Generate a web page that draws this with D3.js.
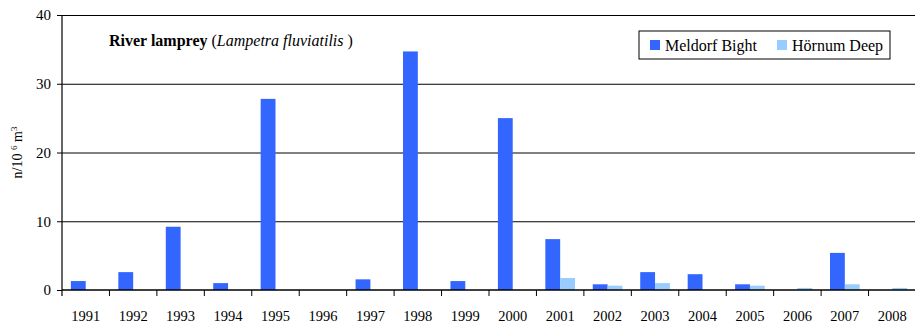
<html>
    <head>
        <script src="https://d3js.org/d3.v7.min.js"></script>
        <style>
            body { margin: 0; background: white; }
            svg text { font-family: "Liberation Serif", "DejaVu Serif", serif !important; }
            .axis .domain { display: none; }
            .gridlines .domain { display: none; }
            .gridlines line { stroke: #000; stroke-width: 1; }
        </style>
    </head>
    <body>
        <svg id="chart" width="915" height="324"></svg>
        <script>
            const years = ["1991","1992","1993","1994","1995","1996","1997","1998","1999",
                           "2000","2001","2002","2003","2004","2005","2006","2007","2008"];
            const seriesNames = ["Meldorf Bight", "Hörnum Deep"];
            const meldorf = [1.3, 2.6, 9.2, 1.0, 27.8, 0, 1.55, 34.7, 1.3,
                             25.0, 7.4, 0.83, 2.6, 2.3, 0.83, 0, 5.4, 0];
            const hornum  = [0, 0, 0, 0, 0, 0, 0, 0, 0,
                             0, 1.75, 0.63, 1.0, 0, 0.63, 0.3, 0.83, 0.3];
            const yTicks = [0, 10, 20, 30, 40];
            const colors = ["#3366ff", "#99ccff"];

            const svg = d3.select("#chart");
            const margin = {top: 15, left: 62, bottom: 34};
            const plotRight = 916;
            const plotBottom = 324 - margin.bottom;

            const data = years.map((y, i) => ({year: y, values: [meldorf[i], hornum[i]]}));

            const x = d3.scaleBand().domain(years).range([margin.left, plotRight]);
            const xInner = d3.scaleBand().domain([0, 1])
                .range([0, x.bandwidth()]).paddingInner(0).paddingOuter(0.6);
            const y = d3.scaleLinear().domain([0, 40]).range([plotBottom, margin.top]);

            // gridlines
            svg.append("g")
                .attr("class", "gridlines")
                .attr("transform", `translate(${margin.left},0)`)
                .call(d3.axisLeft(y).tickValues(yTicks.slice(1)).tickSize(-(plotRight - margin.left)).tickFormat(""));

            // bars
            const groups = svg.append("g").selectAll("g")
                .data(data)
                .join("g")
                .attr("transform", d => `translate(${x(d.year)},0)`);

            groups.selectAll("rect")
                .data(d => d.values.map((v, k) => ({k: k, v: v})))
                .join("rect")
                .attr("x", d => xInner(d.k))
                .attr("width", xInner.bandwidth())
                .attr("y", d => y(d.v))
                .attr("height", d => y(0) - y(d.v))
                .attr("fill", d => colors[d.k]);

            // y axis
            const yAxis = svg.append("g")
                .attr("class", "axis")
                .attr("transform", `translate(${margin.left},0)`)
                .call(d3.axisLeft(y).tickValues(yTicks).tickSize(5).tickPadding(6));
            yAxis.selectAll("text").style("font-size", "15px").attr("fill", "#000");
            yAxis.selectAll("line").attr("stroke", "#000");
            svg.append("line")
                .attr("x1", margin.left).attr("x2", margin.left)
                .attr("y1", margin.top).attr("y2", plotBottom + 6)
                .attr("stroke", "#000").attr("stroke-width", 1.2);

            // x axis
            const xAxis = svg.append("g")
                .attr("class", "axis")
                .attr("transform", `translate(0,${plotBottom})`)
                .call(d3.axisBottom(x).tickSize(0).tickPadding(21));
            xAxis.selectAll("text").style("font-size", "14.5px").attr("fill", "#000");
            svg.append("g")
                .selectAll("line")
                .data(years.slice(1))
                .join("line")
                .attr("x1", d => x(d)).attr("x2", d => x(d))
                .attr("y1", plotBottom).attr("y2", plotBottom + 6)
                .attr("stroke", "#000");
            svg.append("line")
                .attr("x1", margin.left).attr("x2", plotRight)
                .attr("y1", plotBottom).attr("y2", plotBottom)
                .attr("stroke", "#000").attr("stroke-width", 1.5);

            // y label
            const yLabel = svg.append("text")
                .attr("transform", `translate(22,${(margin.top + plotBottom) / 2}) rotate(-90)`)
                .attr("text-anchor", "middle")
                .style("font-size", "14px");
            yLabel.append("tspan").text("n/10 ");
            yLabel.append("tspan").text("6").style("font-size", "9px").attr("dy", -5);
            yLabel.append("tspan").text(" m").attr("dy", 5);
            yLabel.append("tspan").text("3").style("font-size", "9px").attr("dy", -5);

            // title
            const title = svg.append("text")
                .attr("x", 109).attr("y", 46)
                .style("font-size", "16px");
            title.append("tspan").text("River lamprey").style("font-weight", "bold");
            title.append("tspan").text(" (");
            title.append("tspan").text("Lampetra fluviatilis").style("font-style", "italic");
            title.append("tspan").text(" )");

            // legend
            const legend = svg.append("g").attr("transform", "translate(639,31)");
            legend.append("rect")
                .attr("width", 251).attr("height", 28)
                .attr("fill", "white").attr("stroke", "#000");
            const legendX = [11, 138];
            seriesNames.forEach((name, i) => {
                legend.append("rect")
                    .attr("x", legendX[i]).attr("y", 9)
                    .attr("width", 10).attr("height", 10)
                    .attr("fill", colors[i]);
                legend.append("text")
                    .attr("x", legendX[i] + 15).attr("y", 20)
                    .style("font-size", "16px")
                    .text(name);
            });
        </script>
    </body>
</html>
